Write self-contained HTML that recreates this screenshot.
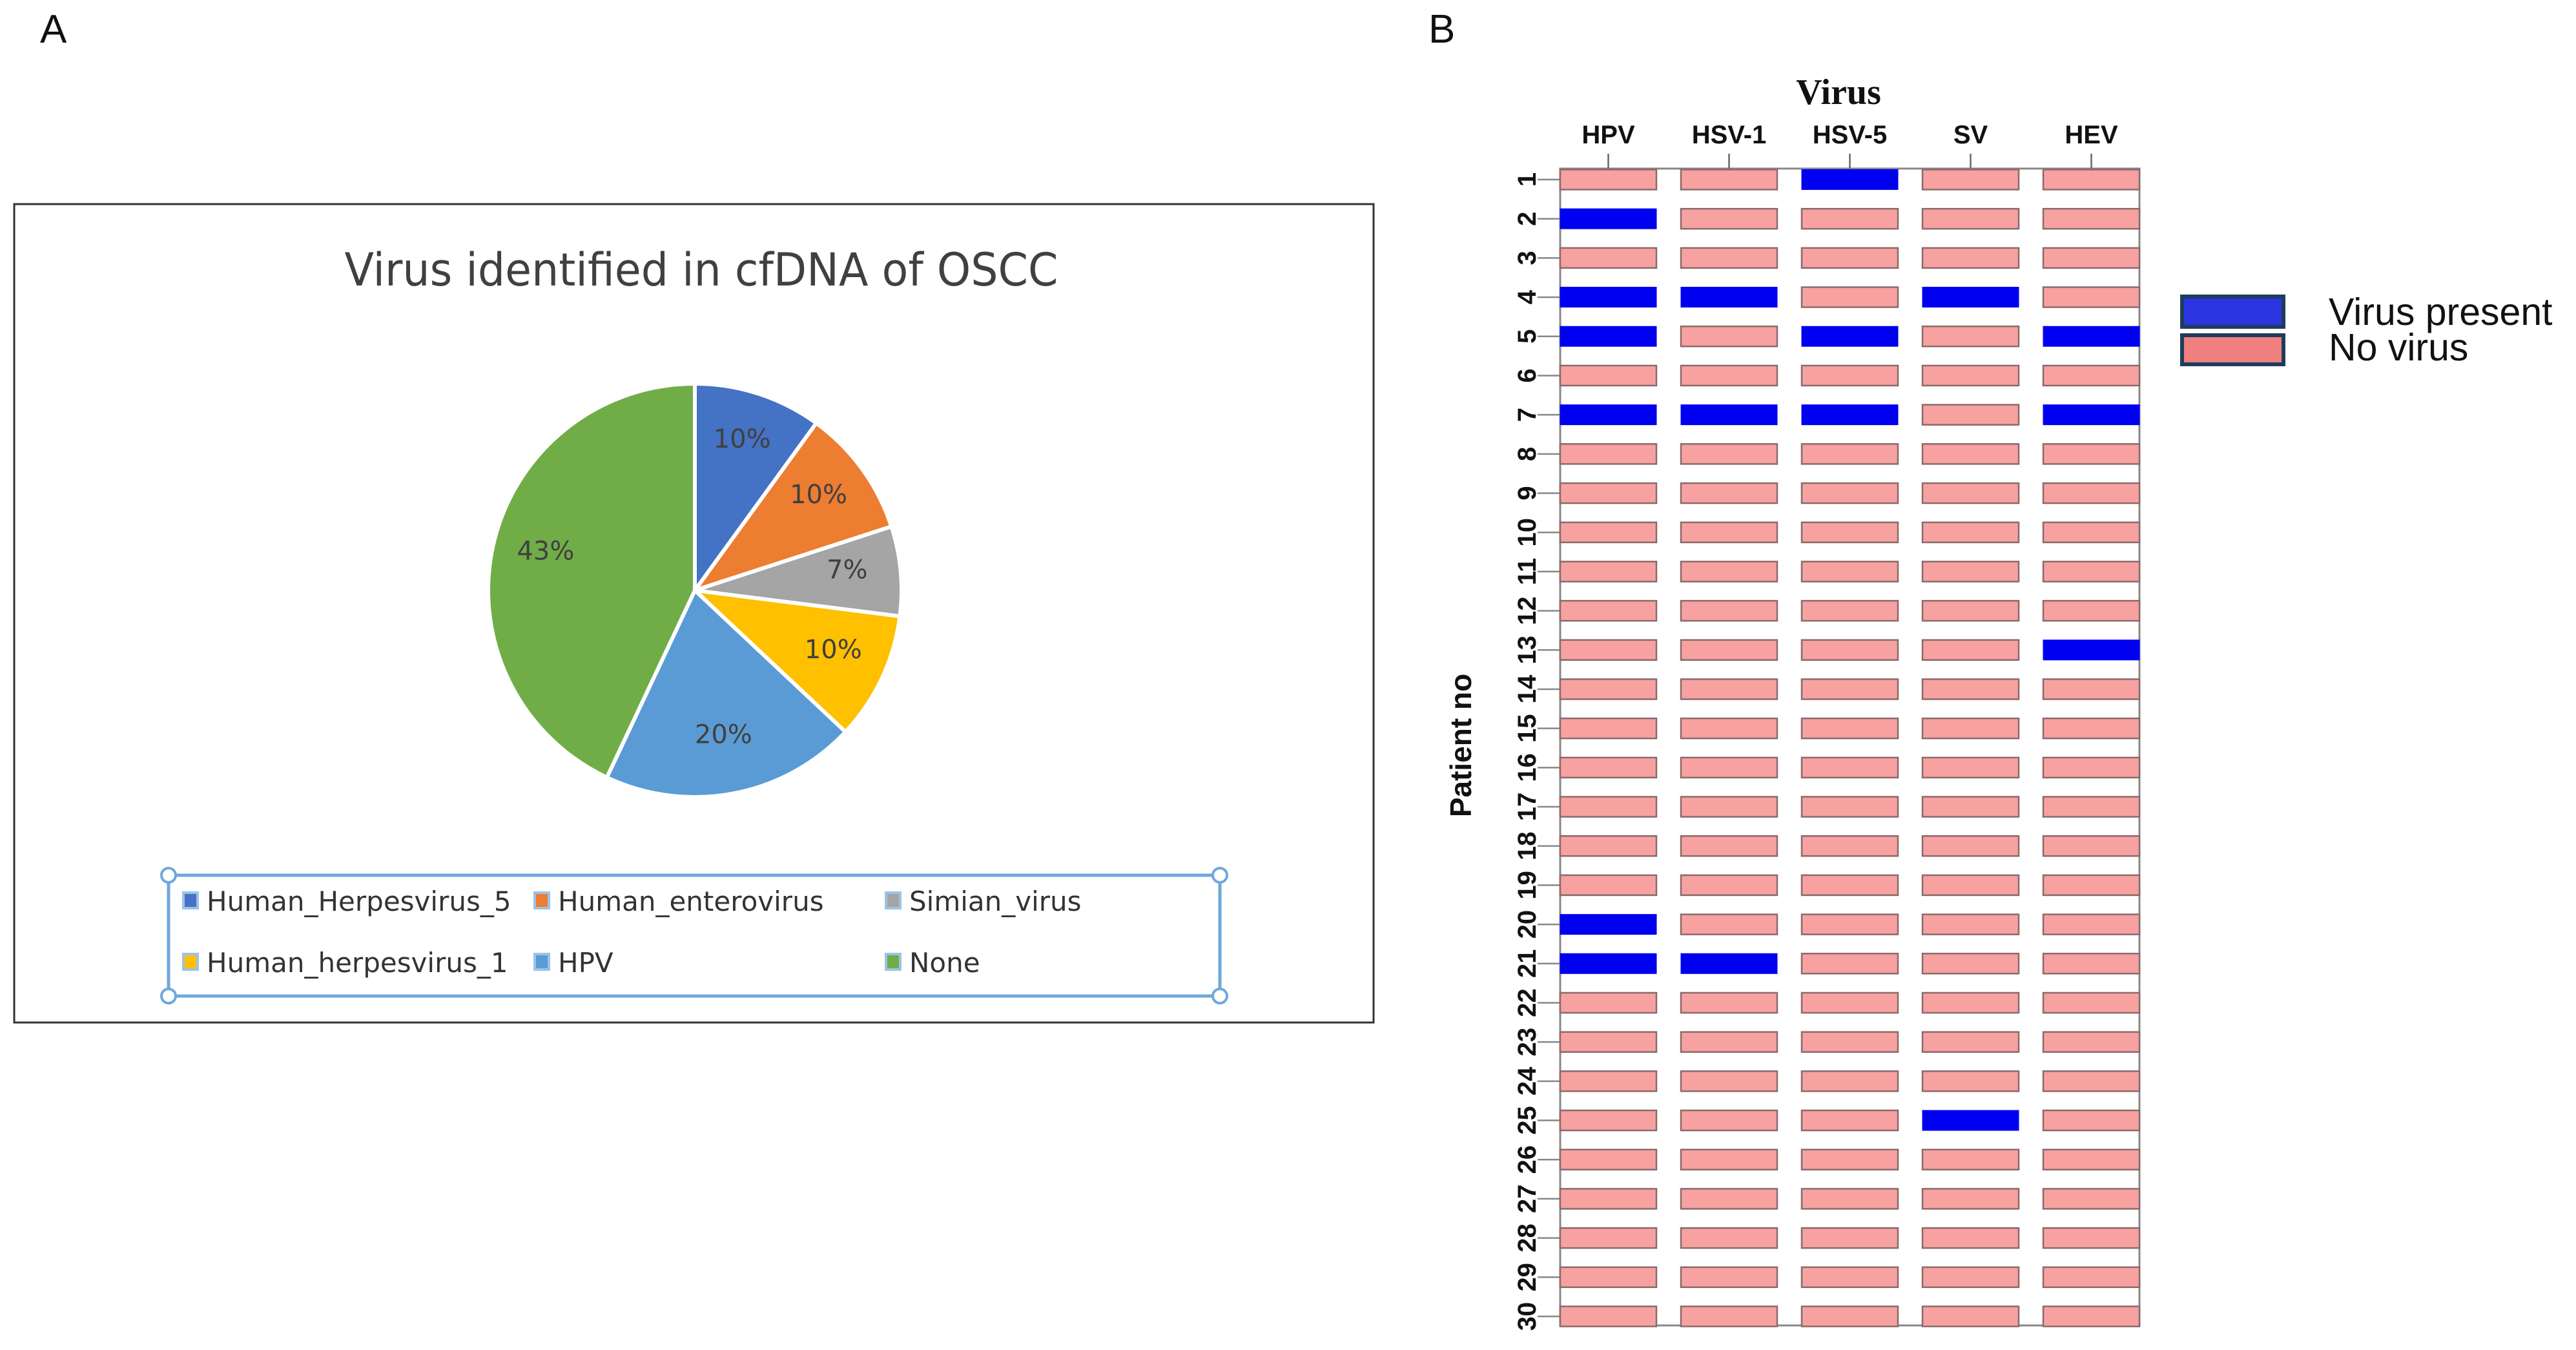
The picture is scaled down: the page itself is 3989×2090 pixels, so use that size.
<!DOCTYPE html>
<html><head><meta charset="utf-8"><style>
html,body{margin:0;padding:0;background:#fff;}
svg{display:block;}
</style></head><body>
<svg width="3989" height="2090" viewBox="0 0 3989 2090" xmlns="http://www.w3.org/2000/svg">
<text x="62" y="66" font-family="Liberation Sans, sans-serif" font-size="62" fill="#111">A</text>
<text x="2212" y="66" font-family="Liberation Sans, sans-serif" font-size="62" fill="#111">B</text>
<g id="panelA">
<rect x="22" y="316" width="2105" height="1267" fill="#fff" stroke="#333" stroke-width="3"/>
<text x="1086" y="442" text-anchor="middle" font-family="DejaVu Sans, Liberation Sans, sans-serif" font-size="70" fill="#404040" textLength="1105" lengthAdjust="spacingAndGlyphs">Virus identified in cfDNA of OSCC</text>
<g id="pie"></g>
<rect x="261" y="1355" width="1628" height="187" fill="none" stroke="#6fa8dc" stroke-width="5"/>
<circle cx="261" cy="1355" r="11" fill="#fff" stroke="#6fa8dc" stroke-width="4"/>
<circle cx="1889" cy="1355" r="11" fill="#fff" stroke="#6fa8dc" stroke-width="4"/>
<circle cx="261" cy="1542" r="11" fill="#fff" stroke="#6fa8dc" stroke-width="4"/>
<circle cx="1889" cy="1542" r="11" fill="#fff" stroke="#6fa8dc" stroke-width="4"/>
<g id="pieLegend"></g>
</g>
<g id="panelB">
<text x="2847" y="161" text-anchor="middle" font-family="Liberation Serif, serif" font-weight="bold" font-size="56" fill="#111">Virus</text>
<text transform="translate(2278,1154) rotate(-90)" text-anchor="middle" font-family="Liberation Sans, sans-serif" font-weight="bold" font-size="46" fill="#111">Patient no</text>
<g id="grid"></g>
<rect x="3379" y="459" width="157" height="47" fill="#2a35e0" stroke="#1f3d5a" stroke-width="6"/>
<rect x="3379" y="519" width="157" height="45" fill="#f08080" stroke="#1f3d5a" stroke-width="6"/>
<text x="3606" y="503" font-family="Liberation Sans, sans-serif" font-size="59" fill="#111">Virus present</text>
<text x="3606" y="558" font-family="Liberation Sans, sans-serif" font-size="59" fill="#111">No virus</text>
</g>
</svg>
<script>
const NS="http://www.w3.org/2000/svg";
const pieLabels=["Human_Herpesvirus_5","Human_enterovirus","Simian_virus","Human_herpesvirus_1","HPV","None"];
const pieValues=[10,10,7,10,20,43];
const pieColors=["#4472c4","#ed7d31","#a5a5a5","#ffc000","#5b9bd5","#70ad47"];
const virusCols=["HPV","HSV-1","HSV-5","SV","HEV"];
const patients=[1,2,3,4,5,6,7,8,9,10,11,12,13,14,15,16,17,18,19,20,21,22,23,24,25,26,27,28,29,30];
const presentHPV=[2,4,5,7,20,21];
const presentHSV1=[4,7,21];
const presentHSV5=[1,5,7];
const presentSV=[4,25];
const presentHEV=[5,7,13];
const presence=[presentHPV,presentHSV1,presentHSV5,presentSV,presentHEV];

function mk(tag,attrs,parent){const e=document.createElementNS(NS,tag);for(const k in attrs)e.setAttribute(k,attrs[k]);parent.appendChild(e);return e;}

// Pie
const pie=document.getElementById('pie');
const cx=1076,cy=914,r=320;
const total=pieValues.reduce((a,b)=>a+b,0);
let a0=-Math.PI/2;
pieValues.forEach((v,i)=>{
  const a1=a0+v/total*2*Math.PI;
  const large=(a1-a0)>Math.PI?1:0;
  const p=mk('path',{d:`M${cx},${cy} L${cx+r*Math.cos(a0)},${cy+r*Math.sin(a0)} A${r},${r} 0 ${large} 1 ${cx+r*Math.cos(a1)},${cy+r*Math.sin(a1)} Z`,fill:pieColors[i],stroke:'#fff','stroke-width':6},pie);
  
  
  const am=(a0+a1)/2;
  const t=mk('text',{x:cx+r*0.74*Math.cos(am),y:cy+r*0.74*Math.sin(am)+4,'text-anchor':'middle','font-family':'DejaVu Sans, sans-serif','font-size':40,fill:'#404040'},pie);
  t.textContent=v+'%';
  
  
  a0=a1;
});
// Pie legend
const pl=document.getElementById('pieLegend');
const lx=[294,838,1382],ly=[1410,1505];
pieLabels.forEach((lab,i)=>{
  const x=lx[i%3],y=ly[Math.floor(i/3)];
  const s=mk('rect',{x:x-10,y:y-28,width:22,height:24,fill:pieColors[i],stroke:'#9cc3e8','stroke-width':4},pl);
  
  
  const t=mk('text',{x:x+26,y:y,'font-family':'DejaVu Sans, sans-serif','font-size':42,fill:'#333'},pl);
  t.textContent=lab;
  
  
});

// Heatmap
const g=document.getElementById('grid');
const gx0=2416,gx1=3313,gTop=261,gBot=2052;
const barW=149, colPitch=(gx1-gx0-barW)/(virusCols.length-1);
const row0=278, rowPitch=(2038-278)/(patients.length-1), barH=31;
function colX(j){return gx0+barW/2+colPitch*j;}
function rowY(i){return row0+rowPitch*i;}
const frame=mk('rect',{x:gx0,y:gTop,width:gx1-gx0,height:gBot-gTop,fill:'none',stroke:'#888','stroke-width':3},g);


virusCols.forEach((c,j)=>{
  const tk=mk('line',{x1:colX(j),x2:colX(j),y1:238,y2:gTop,stroke:'#666','stroke-width':2.5},g);
  
  
  const t=mk('text',{x:colX(j),y:222,'text-anchor':'middle','font-family':'Liberation Sans, sans-serif','font-weight':'bold','font-size':40,fill:'#111'},g);
  t.textContent=c;
  
  
});
patients.forEach((p,i)=>{
  const y=rowY(i);
  const tk=mk('line',{x1:2381,x2:gx0,y1:y,y2:y,stroke:'#888','stroke-width':2.5},g);
  
  
  const t=mk('text',{transform:`translate(2378,${y}) rotate(-90)`,'text-anchor':'middle','font-family':'Liberation Sans, sans-serif','font-weight':'bold','font-size':40,fill:'#111'},g);
  t.textContent=p;
  
  
  virusCols.forEach((c,j)=>{
    const on=presence[j].includes(p);
    const b=mk('rect',{x:colX(j)-barW/2,y:y-barH/2,width:barW,height:barH,fill:on?'#0000f0':'#f7a1a1',stroke:on?'#0000f0':'#8a6a6a','stroke-width':on?1:2.5},g);
    
    
  });
});
</script>
</body></html>
